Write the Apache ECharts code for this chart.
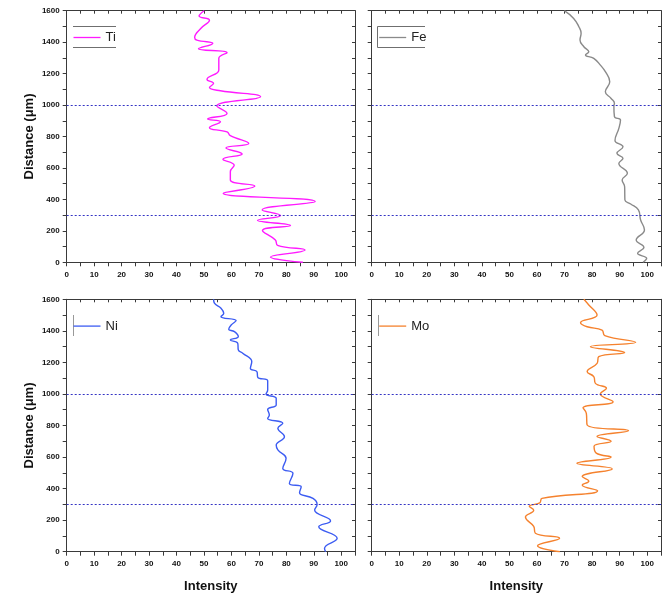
<!DOCTYPE html>
<html>
<head>
<meta charset="utf-8">
<script src="https://cdn.jsdelivr.net/npm/echarts@6/dist/echarts.min.js"></script>
<style>
  html, body { margin: 0; padding: 0; background: #fff; }
  #chart { width: 672px; height: 596px; }
</style>
</head>
<body>
<div id="chart"></div>
<script>
// Line-scan profiles: [intensity, distance (µm)], listed from the top of the scan down
const tiProfile = [
  [50.1,1600],[48.2,1566],[52,1540],[49,1490],[46.6,1430],[47.4,1413],[53.2,1392],[48,1358],
  [58.4,1333],[55.4,1297],[55.4,1223],[51.1,1163],[53.5,1138],[52,1112],[56,1091],[70.6,1053],
  [54.7,994],[58.4,947],[51.3,911],[56,894],[52,856],[58.4,829],[59.6,805],[66.3,755],
  [58,727],[63.9,689],[56.9,655],[61,617],[59.6,576],[59.6,523],[68.5,485],[57,439],
  [90.5,386],[71.2,333],[77.9,297],[69.5,267],[81.5,234],[71.3,202],[76,142],[76.8,108],
  [86.8,78],[74.2,33],[86,0]
];
const feProfile = [
  [69.9,1600],[73.3,1551],[75.2,1498],[76,1456],[75.6,1413],[77,1371],[78.8,1339],[77.6,1318],
  [80.6,1297],[83,1254],[84.8,1212],[86.4,1148],[84.8,1085],[86.9,1042],[88.1,1011],[87.9,994],
  [88.1,926],[90.3,905],[89.7,852],[88.3,775],[91.2,735],[89,693],[91.2,661],[89.7,629],
  [92.8,566],[90.9,523],[91.8,481],[91.9,396],[94,371],[96.8,333],[97.6,269],[99,206],
  [96,142],[98.8,95],[96.5,57],[99.8,25],[98.5,0]
];
const niProfile = [
  [53.5,1600],[53.8,1575],[56.2,1543],[57.2,1511],[56.2,1490],[61.7,1465],[59.9,1437],[59,1410],
  [61.1,1395],[62.5,1363],[59.6,1342],[62.3,1321],[62.5,1279],[64.1,1258],[67.4,1205],[66.9,1162],
  [69.3,1141],[69.6,1105],[73.2,1084],[73.2,1025],[72.6,1000],[76.3,972],[76.3,930],[73.2,902],
  [73.8,866],[73.2,845],[78.7,814],[76.9,782],[79.3,729],[76.3,676],[76.9,645],[79.9,592],
  [78.7,528],[82.4,497],[81.1,433],[85.4,412],[84.8,374],[89.7,338],[91.2,300],[90.3,264],
  [96.1,195],[91.8,158],[98.5,85],[93.9,21],[94.3,0]
];
const moProfile = [
  [77,1600],[78.8,1564],[81.8,1500],[75.8,1452],[78.2,1426],[83.6,1405],[84.6,1370],[95.8,1327],
  [79.4,1300],[91.8,1262],[82.4,1236],[81.8,1194],[78.2,1141],[80.6,1110],[81.2,1067],[85.2,1036],
  [83,1000],[87.6,951],[76.7,912],[77.9,877],[78.2,803],[93.2,767],[81.8,731],[86.9,700],
  [80.7,668],[81.5,625],[86.9,600],[74.5,560],[87.3,525],[76.4,476],[78.8,447],[76.4,423],
  [82,387],[61.8,338],[61,310],[57.2,288],[58.8,262],[55.8,220],[58.8,160],[59.4,117],
  [68.2,85],[60.2,38],[68.3,0]
];

const elementNames = ['Ti', 'Fe', 'Ni', 'Mo'];
const elementColors = ['#ff1aff', '#8a8a8a', '#3c5cf2', '#f5822e'];
const profiles = [tiProfile, feProfile, niProfile, moProfile];
const boundaryDepths = [300, 1000];
const intensityRange = [0, 105];
const distanceRange = [0, 1600];

const FONT = '"Liberation Sans", Arial, sans-serif';
const AXIS_COLOR = '#3a3a3a';

// Panel rectangles in pixels: [left, top, width, height]
const panelRects = [
  [66.7, 10.7, 288.3, 251.6],
  [371.7, 10.7, 289.3, 251.6],
  [66.7, 299.3, 288.3, 252.4],
  [371.7, 299.3, 289.3, 252.4]
];

const grid = panelRects.map(r => ({ left: r[0], top: r[1], width: r[2], height: r[3], containLabel: false }));

const xAxis = [];
const yAxis = [];
const series = [];
const legend = [];

panelRects.forEach((r, i) => {
  const showYLabels = i % 2 === 0;
  const bottomRow = i >= 2;
  // bottom intensity axis, labelled every 10
  xAxis.push({
    gridIndex: i, type: 'value', position: 'bottom',
    min: intensityRange[0], max: intensityRange[1], interval: 5,
    axisLine: { show: true, onZero: false, lineStyle: { color: AXIS_COLOR, width: 1 } },
    axisTick: { show: true, inside: false, length: 4, lineStyle: { color: AXIS_COLOR } },
    splitLine: { show: false },
    axisLabel: {
      show: true, fontSize: 8, fontWeight: 'bold', color: '#111', fontFamily: FONT, margin: 8,
      formatter: v => (v % 10 === 0 && v <= 100) ? String(v) : ''
    },
    name: bottomRow ? 'Intensity' : '',
    nameLocation: 'middle', nameGap: 28,
    nameTextStyle: { fontSize: 13, fontWeight: 'bold', color: '#111', fontFamily: FONT }
  });
  // top frame edge with inward ticks
  xAxis.push({
    gridIndex: i, type: 'value', position: 'top',
    min: intensityRange[0], max: intensityRange[1], interval: 5,
    axisLine: { show: true, onZero: false, lineStyle: { color: AXIS_COLOR, width: 1 } },
    axisTick: { show: true, inside: true, length: 3, lineStyle: { color: AXIS_COLOR } },
    splitLine: { show: false },
    axisLabel: { show: false }
  });
  // left distance axis
  yAxis.push({
    gridIndex: i, type: 'value', position: 'left',
    min: distanceRange[0], max: distanceRange[1], interval: 100,
    axisLine: { show: true, onZero: false, lineStyle: { color: AXIS_COLOR, width: 1 } },
    axisTick: { show: true, inside: false, length: 4, lineStyle: { color: AXIS_COLOR } },
    splitLine: { show: false },
    axisLabel: {
      show: showYLabels, fontSize: 8, fontWeight: 'bold', color: '#111', fontFamily: FONT, margin: 7,
      formatter: v => (v % 200 === 0) ? String(v) : ''
    },
    name: showYLabels ? 'Distance (\u03bcm)' : '',
    nameLocation: 'middle', nameRotate: 90, nameGap: 31,
    nameTextStyle: { fontSize: 13, fontWeight: 'bold', color: '#111', fontFamily: FONT }
  });
  // right frame edge with inward ticks
  yAxis.push({
    gridIndex: i, type: 'value', position: 'right',
    min: distanceRange[0], max: distanceRange[1], interval: 100,
    axisLine: { show: true, onZero: false, lineStyle: { color: AXIS_COLOR, width: 1 } },
    axisTick: { show: true, inside: true, length: 3, lineStyle: { color: AXIS_COLOR } },
    splitLine: { show: false },
    axisLabel: { show: false }
  });

  series.push({
    name: elementNames[i], type: 'line',
    xAxisIndex: 2 * i, yAxisIndex: 2 * i,
    data: profiles[i],
    smooth: 0.45,
    showSymbol: false, symbol: 'none',
    lineStyle: { color: elementColors[i], width: 1.4 },
    itemStyle: { color: elementColors[i] },
    animation: false,
    markLine: {
      silent: true, symbol: 'none', animation: false,
      label: { show: false },
      lineStyle: { color: '#3434c4', type: [2, 2], width: 1 },
      data: boundaryDepths.map(d => ({ yAxis: d }))
    }
  });

  legend.push({
    data: [elementNames[i]],
    padding: 0,
    left: r[0] + (i % 2 === 0 ? 6.8 : 7.5),
    top: r[1] + 20.3,
    icon: 'rect', itemWidth: 27, itemHeight: 1.3, itemGap: 4,
    textStyle: { fontSize: 13, color: '#222', fontFamily: FONT },
    selectedMode: false
  });
});

// Legend frame fragments
const frameStyle = { stroke: '#6f6f6f', lineWidth: 1 };
const graphic = [
  { type: 'line', shape: { x1: 73, y1: 26.5, x2: 116, y2: 26.5 }, style: frameStyle, silent: true },
  { type: 'line', shape: { x1: 73, y1: 47.5, x2: 116, y2: 47.5 }, style: frameStyle, silent: true },
  { type: 'polyline', shape: { points: [[425, 26.5], [377.5, 26.5], [377.5, 47.5], [425, 47.5]] }, style: { stroke: '#6f6f6f', lineWidth: 1, fill: null }, silent: true },
  { type: 'line', shape: { x1: 73.5, y1: 315, x2: 73.5, y2: 336 }, style: { stroke: '#999', lineWidth: 1 }, silent: true },
  { type: 'line', shape: { x1: 378.5, y1: 315, x2: 378.5, y2: 336 }, style: { stroke: '#999', lineWidth: 1 }, silent: true }
];

const chart = echarts.init(document.getElementById('chart'), null, { renderer: 'canvas' });
chart.setOption({
  animation: false,
  backgroundColor: '#fff',
  grid, xAxis, yAxis, series, legend, graphic
});
</script>
</body>
</html>
